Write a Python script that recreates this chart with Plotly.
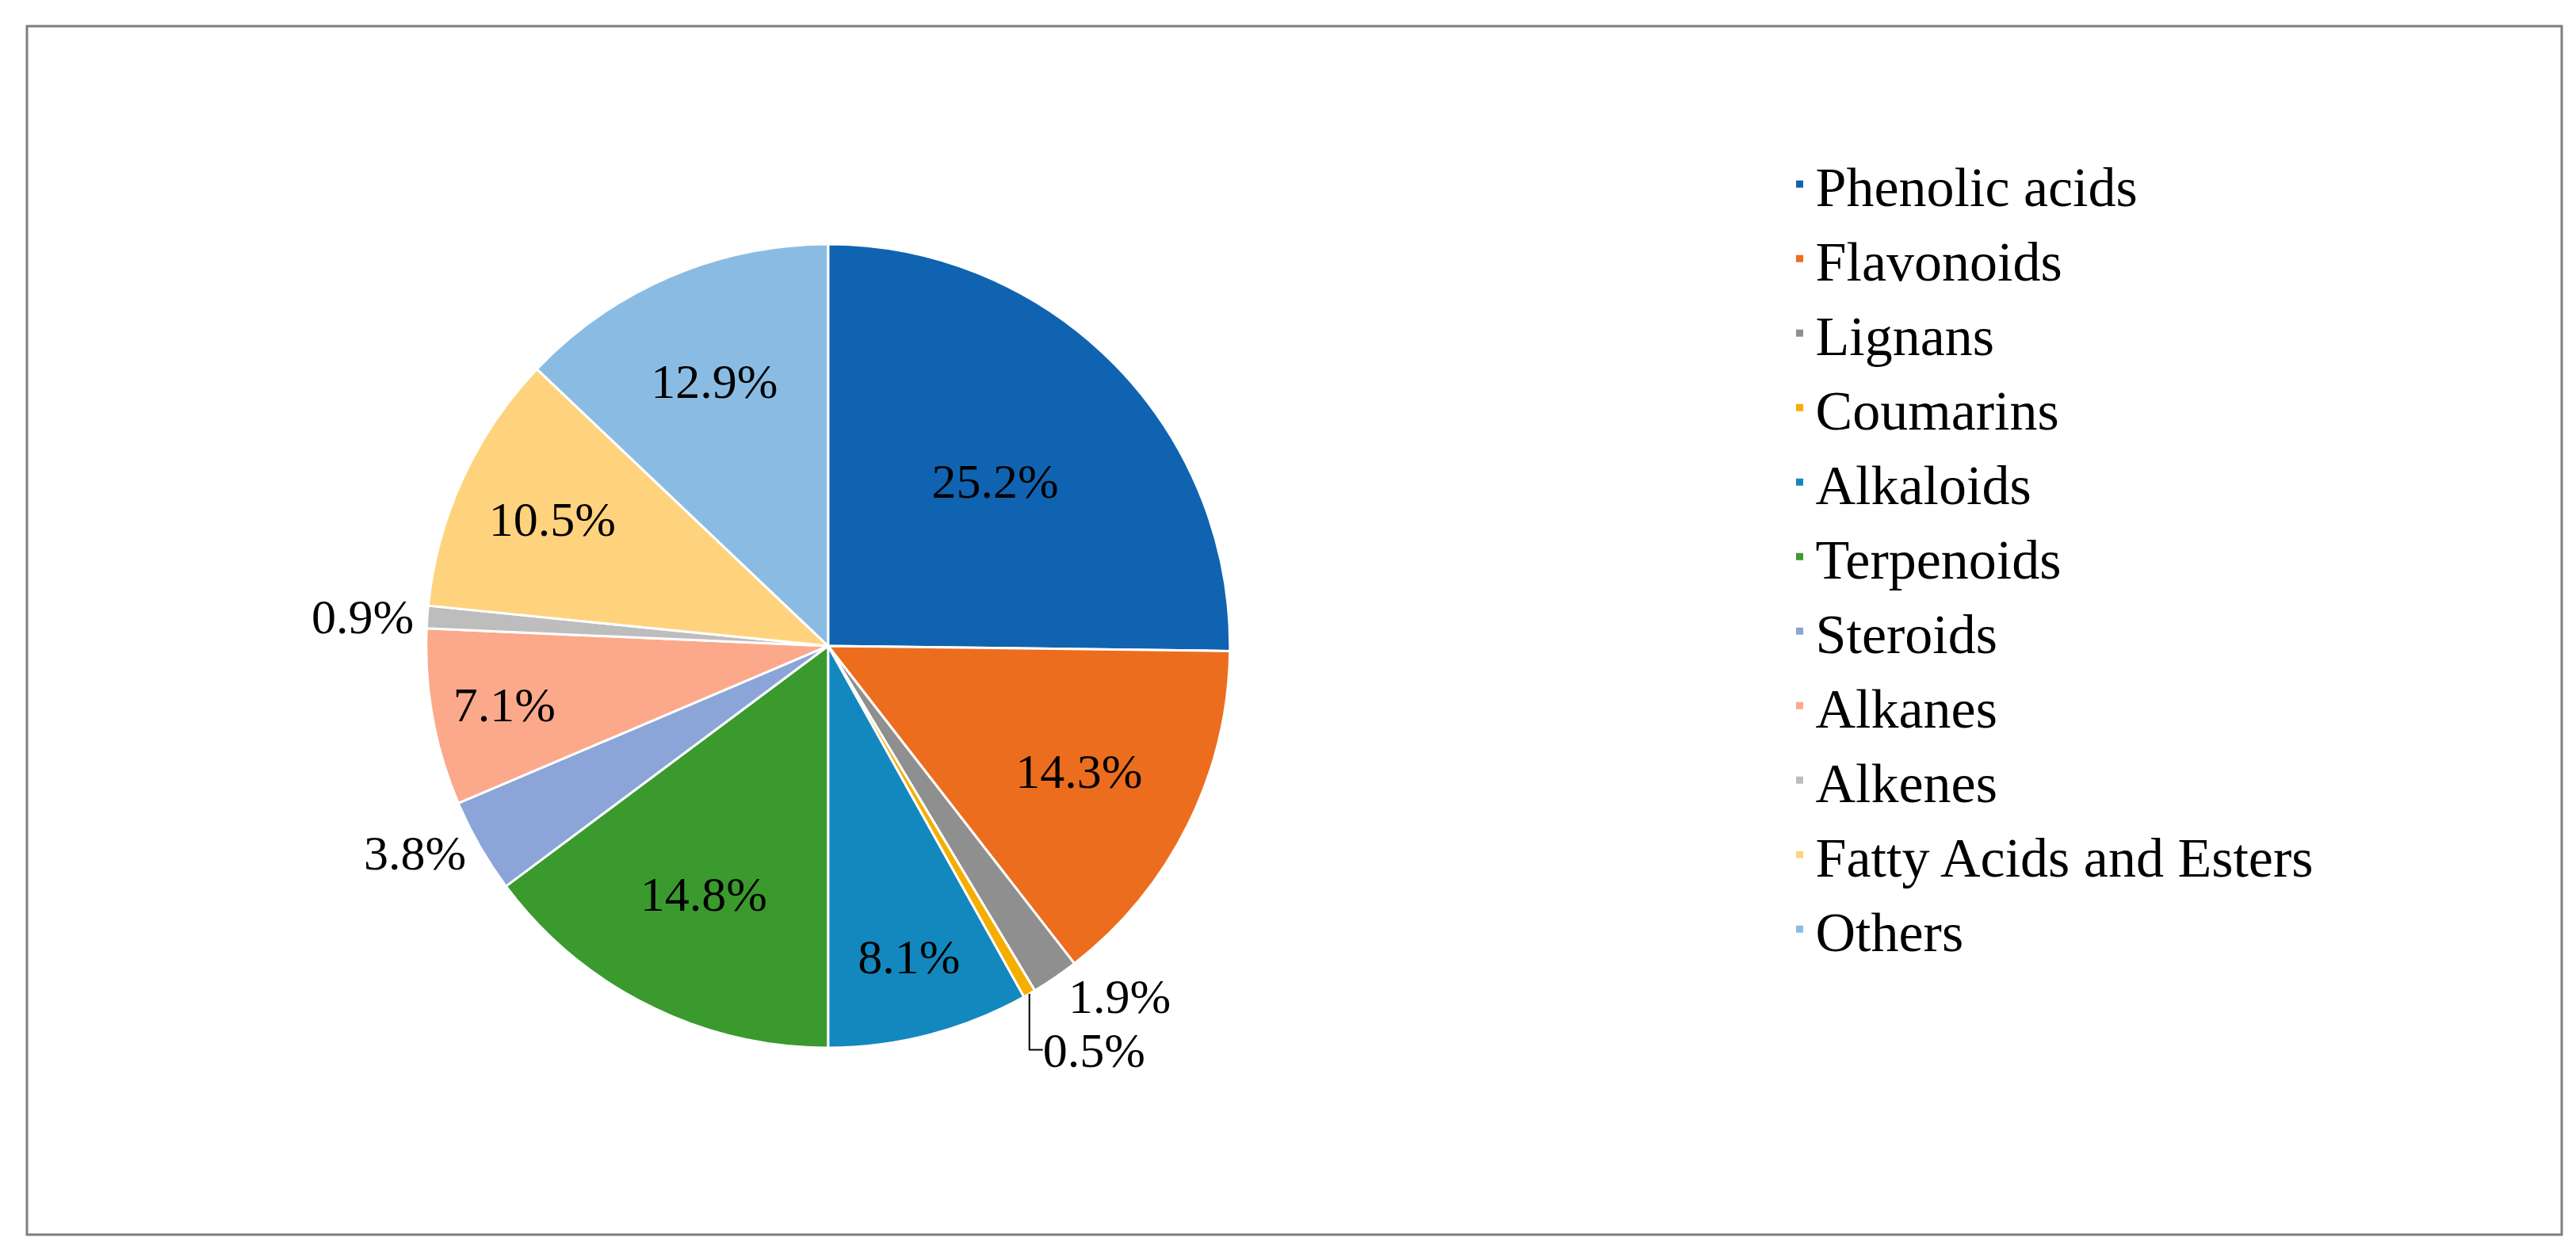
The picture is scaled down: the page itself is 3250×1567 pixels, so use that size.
import plotly.graph_objects as go

categories = ["Phenolic acids", "Flavonoids", "Lignans", "Coumarins", "Alkaloids",
              "Terpenoids", "Steroids", "Alkanes", "Alkenes", "Fatty Acids and Esters", "Others"]
values = [25.2, 14.3, 1.9, 0.5, 8.1, 14.8, 3.8, 7.1, 0.9, 10.5, 12.9]
colors = ["#1063B1", "#ED6D1E", "#8F8F8F", "#F5AE00", "#1388BF", "#3A9A2E",
          "#8BA5D8", "#FBA98A", "#BDBDBD", "#FFD37E", "#8ABCE3"]
positions = ["inside", "inside", "outside", "outside", "inside", "inside",
             "outside", "inside", "outside", "inside", "inside"]

font = "Liberation Serif"
fig = go.Figure(go.Pie(
    labels=categories, values=values, sort=False, direction="clockwise", rotation=0,
    marker=dict(colors=colors, line=dict(color="white", width=3)),
    texttemplate="%{value:.1f}%", textposition=positions, insidetextorientation="horizontal",
    textfont=dict(family=font, size=62, color="black"),
    domain=dict(x=[0.163, 0.475], y=[0.16, 0.81]),
))
fig.update_layout(
    width=3250, height=1567, margin=dict(l=0, r=0, t=0, b=0),
    paper_bgcolor="white", plot_bgcolor="white",
    legend=dict(x=0.69, y=0.89, xanchor="left", yanchor="top",
                font=dict(family=font, size=70, color="black"), itemwidth=30),
    shapes=[dict(type="rect", xref="paper", yref="paper", x0=0.008, x1=0.992, y0=0.011, y1=0.984,
                 line=dict(color="#7F7F7F", width=3))],
)
fig.write_html("out.html")
